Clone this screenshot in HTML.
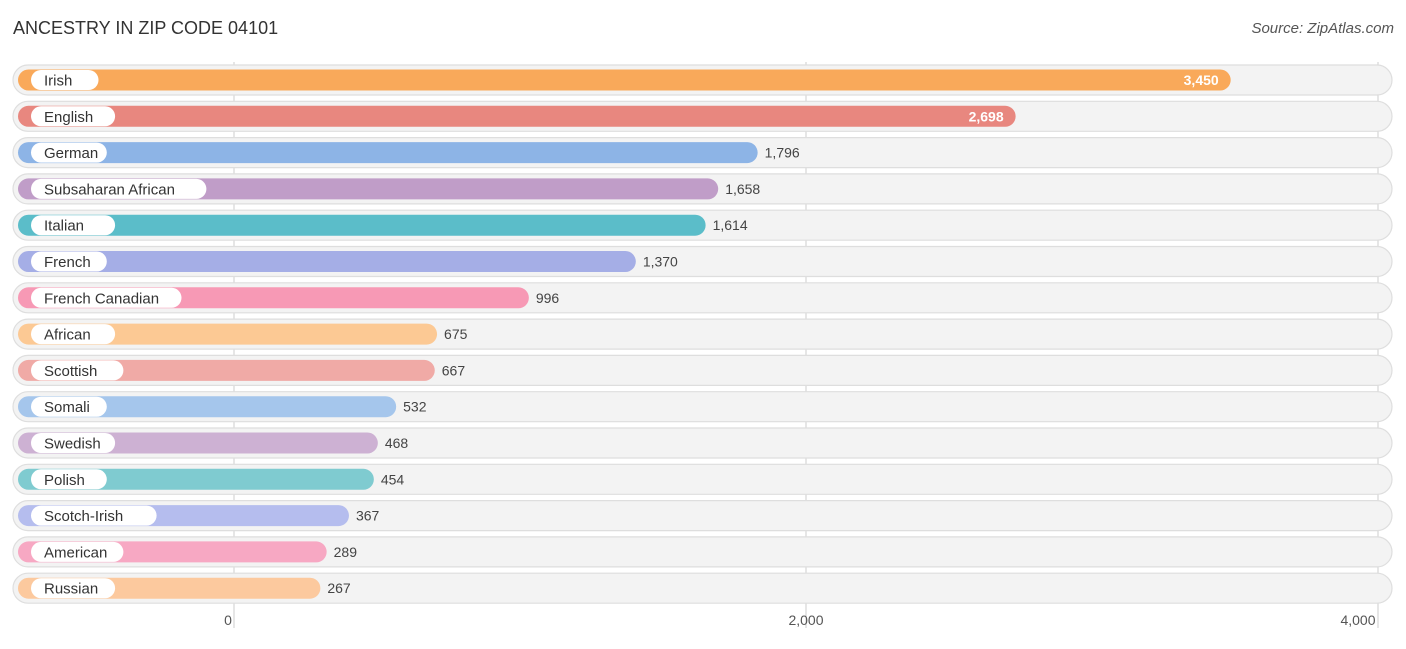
<!DOCTYPE html>
<html><head><meta charset="utf-8"><style>
body{margin:0;background:#fff;font-family:"Liberation Sans",sans-serif;}
</style></head><body>
<svg id="c" width="1406" height="644" xmlns="http://www.w3.org/2000/svg">
<text x="13" y="34" font-size="18" fill="#333">ANCESTRY IN ZIP CODE 04101</text>
<text x="1394" y="33" font-size="15" fill="#555" font-style="italic" text-anchor="end">Source: ZipAtlas.com</text>
<g id="grid"></g><g id="rows"></g><g id="ticks"></g>
</svg>
<script>
const categories=["Irish","English","German","Subsaharan African","Italian","French","French Canadian","African","Scottish","Somali","Swedish","Polish","Scotch-Irish","American","Russian"];
const values=[3450,2698,1796,1658,1614,1370,996,675,667,532,468,454,367,289,267];
const colors=["#f9a95a","#e8877f","#8db4e6","#c09dc8","#5bbdc9","#a5aee6","#f799b5","#fcc994","#f0aaa6","#a5c6ec","#cdb1d3","#7fcbd0","#b5bdee","#f7a8c3","#fcc99e"];
const tickValues=[0,2000,4000];
const tickLabels=["0","2,000","4,000"];
const NS="http://www.w3.org/2000/svg";
const x=v=>234+v*0.286;
const rowY=i=>80+i*36.3;
function mk(t,a,p){const e=document.createElementNS(NS,t);for(const k in a)e.setAttribute(k,a[k]);p.appendChild(e);return e;}
const grid=document.getElementById('grid'),rows=document.getElementById('rows'),ticks=document.getElementById('ticks');
tickValues.forEach((t,i)=>{
 const l=mk('line',{x1:x(t),x2:x(t),y1:62,y2:628,stroke:'#ccc','stroke-width':1},grid);
 
 const tx=mk('text',{x:x(t)-(i==0?6:i==2?20:0),y:625,'font-size':14,fill:'#555','text-anchor':i==0?'middle':'middle'},ticks);
 tx.textContent=tickLabels[i];
 
});
categories.forEach((c,i)=>{
 const cy=rowY(i);
 const g=mk('g',{},rows);
 
 const bg=mk('rect',{x:13,y:cy-15,width:1379,height:30,rx:15,fill:'#f3f3f3',stroke:'#dedede','stroke-width':1.2},g);
 
 const end=x(values[i])+10;
 const b=mk('rect',{x:18,y:cy-10.5,width:end-18,height:21,rx:10.5,fill:colors[i]},g);
 
 const tw=c.length*8.3+26;
 const p=mk('rect',{x:31,y:cy-10,width:tw,height:20,rx:10,fill:'#fff'},g);
 
 const t=mk('text',{x:44,y:cy+5.5,'font-size':15,fill:'#333'},g);t.textContent=c;
 
 const inside=values[i]>2500;
 const v=mk('text',{x:inside?end-12:end+7,y:cy+5,'font-size':14,fill:inside?'#fff':'#444','text-anchor':inside?'end':'start','font-weight':inside?'bold':'normal'},g);
 v.textContent=values[i].toLocaleString('en-US');
 
});
</script>
</body></html>
